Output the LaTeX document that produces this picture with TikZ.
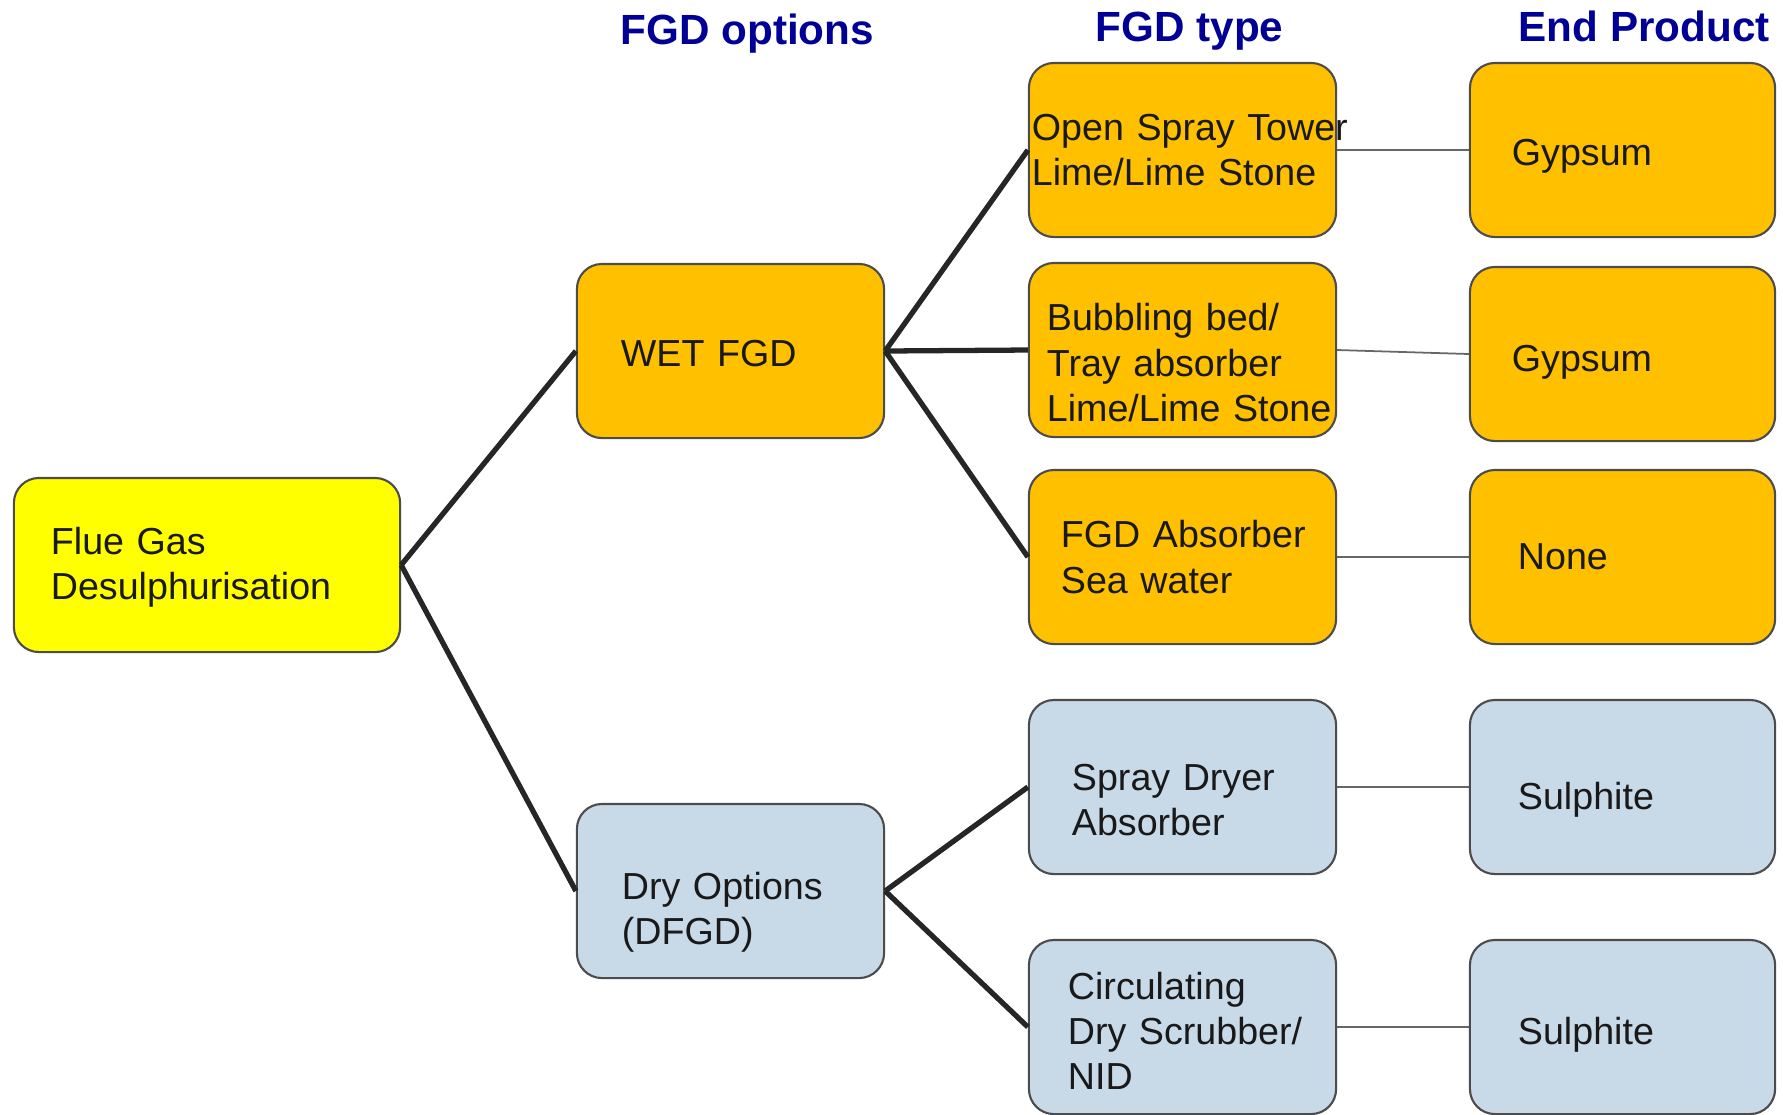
\documentclass[tikz,border=0pt]{standalone}
\usepackage{fontspec}
\setmainfont{Liberation Sans}
\hyphenpenalty=10000
\exhyphenpenalty=10000
\definecolor{wetorange}{RGB}{255,192,0}
\definecolor{flueyellow}{RGB}{255,255,0}
\definecolor{drygrey}{RGB}{200,217,232}
\definecolor{headblue}{RGB}{0,0,150}
% taller first line, pushes the text a little down in its box
\newcommand\dropline[1]{\rule{0pt}{\dimexpr8pt+#1\relax}}

\begin{document}
\begin{tikzpicture}[x=0.01cm, y=-0.01cm,
  box/.style={draw=black!70, line width=0.6pt, rounded corners=0.25cm,
    minimum height=1.74cm, align=left, text=black!90,
    font=\fontsize{10.7}{12.9}\selectfont},
  fluebox/.style={box, fill=flueyellow},
  wetbox/.style={box, fill=wetorange},
  drybox/.style={box, fill=drygrey},
  heading/.style={anchor=base west, inner sep=0pt, text=headblue,
    font=\fontsize{12}{14}\selectfont\bfseries},
  branch/.style={line width=1.5pt, draw=black!85},
  feed/.style={line width=0.5pt, draw=black!60}]
  % Setup
  \def\colA{207}
  \def\colB{730.5}
  \def\colC{1182.5}
  \def\colD{1622.5}
  \useasboundingbox (0,0) rectangle (1783,1114);

  % Headings
  \node[heading] (hopt) at (620,44) {FGD options};
  \node[heading] (htype) at (1095,41) {FGD type};
  \node[heading] (hprod) at (1518,41) {End Product};

  % Root and options
  \node[fluebox, inner xsep=0.37cm, text width=3.12cm] (flue) at (\colA,565)
    {\dropline{1pt}Flue~Gas\\Desulphurisation};
  \node[wetbox, inner xsep=0.44cm, text width=2.19cm] (wet) at (\colB,351)
    {\dropline{1pt}WET~FGD};
  \node[drybox, inner xsep=0.45cm, text width=2.17cm] (dry) at (\colB,891)
    {\dropline{12pt}Dry~Options\\(DFGD)};

  % FGD types
  \node[wetbox, inner xsep=0.03cm, text width=3.01cm] (spray) at (\colC,150)
    {Open~Spray~Tower\\Lime/Lime~Stone};
  \node[wetbox, inner xsep=0.18cm, text width=2.71cm] (bubble) at (\colC,350)
    {\dropline{7pt}Bubbling~bed/\\Tray~absorber\\Lime/Lime~Stone};
  \node[wetbox, inner xsep=0.32cm, text width=2.43cm] (sea) at (\colC,557)
    {FGD~Absorber\\Sea~water};
  \node[drybox, inner xsep=0.43cm, text width=2.21cm] (sda) at (\colC,787)
    {\dropline{7pt}Spray~Dryer\\Absorber};
  \node[drybox, inner xsep=0.39cm, text width=2.29cm] (cds) at (\colC,1027)
    {\dropline{2pt}Circulating\\Dry~Scrubber/\\NID};

  % End products
  \node[wetbox, inner xsep=0.42cm, text width=2.21cm] (gyp1) at (\colD,150)
    {\dropline{3pt}Gypsum};
  \node[wetbox, inner xsep=0.42cm, text width=2.21cm] (gyp2) at (\colD,354)
    {\dropline{4pt}Gypsum};
  \node[wetbox, inner xsep=0.48cm, text width=2.09cm] (none) at (\colD,557)
    {None};
  \node[drybox, inner xsep=0.48cm, text width=2.09cm] (sul1) at (\colD,787)
    {\dropline{7pt}Sulphite};
  \node[drybox, inner xsep=0.48cm, text width=2.09cm] (sul2) at (\colD,1027)
    {\dropline{4pt}Sulphite};

  % Branches
  \draw[branch] (flue.east) -- (wet.west);
  \draw[branch] (flue.east) -- (dry.west);
  \draw[branch] (wet.east) -- (spray.west);
  \draw[branch] (wet.east) -- (bubble.west);
  \draw[branch] (wet.east) -- (sea.west);
  \draw[branch] (dry.east) -- (sda.west);
  \draw[branch] (dry.east) -- (cds.west);

  % Products
  \draw[feed] (spray.east) -- (gyp1.west);
  \draw[feed] (bubble.east) -- (gyp2.west);
  \draw[feed] (sea.east) -- (none.west);
  \draw[feed] (sda.east) -- (sul1.west);
  \draw[feed] (cds.east) -- (sul2.west);
\end{tikzpicture}
\end{document}
